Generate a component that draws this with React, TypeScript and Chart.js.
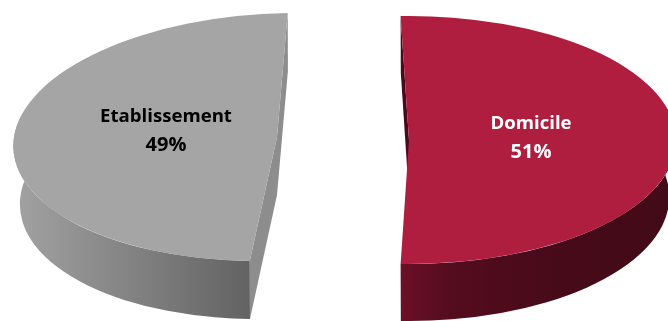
import React, { useEffect, useRef } from "react";
import { Chart, registerables } from "chart.js";

Chart.register(...registerables);

const categories = ["Domicile", "Etablissement"];
const shares = [51, 49];
const faceColors = ["#af1e3e", "#a5a5a5"];
const cutColors = ["#4a0a1a", "#8d8d8d"];
const labelColors = ["#ffffff", "#000000"];

// Where each exploded slice sits on the canvas and how it is foreshortened.
const sliceViews = [
  { cx: 409, cy: 140, rx: 267, ry: 124, shear: 0, depth: 57, floorScale: 0.975,
    cutAngles: "start", labelX: 531, labelY: 124,
    wallStops: [[401, "#6b1028"], [450, "#540c1e"], [560, "#470a19"], [668, "#430a18"]] },
  { cx: 277, cy: 137, rx: 263, ry: 124, shear: -0.153, depth: 58, floorScale: 0.975,
    cutAngles: "both", labelX: 166, labelY: 117,
    wallStops: [[15, "#a2a2a2"], [130, "#838383"], [250, "#626262"]] },
];

const WALL_FROM = -0.17;
const WALL_TO = Math.PI + 0.17;

type View = (typeof sliceViews)[number];

function applyView(ctx: CanvasRenderingContext2D, v: View, R: number, lower: boolean) {
  const scale = lower ? v.floorScale : 1;
  const sx = (v.rx / R) * scale;
  const sy = v.ry / R;
  ctx.setTransform(sx, 0, v.shear * sy, sy, v.cx, v.cy + (lower ? v.depth : 0));
}

const pie3d = {
  id: "pie3d",
  beforeDatasetsDraw(chart: Chart) {
    const ctx = chart.ctx;
    const arcs = chart.getDatasetMeta(0).data as any[];

    arcs.forEach((arc, i) => {
      const v = sliceViews[i];
      const R = arc.outerRadius;
      const a0 = arc.startAngle;
      const a1 = arc.endAngle;

      // Rounded outer wall, limited to the part that faces the viewer.
      const from = Math.max(a0, WALL_FROM);
      const to = Math.min(a1, WALL_TO);
      ctx.save();
      ctx.beginPath();
      applyView(ctx, v, R, false);
      ctx.arc(0, 0, R, from, to);
      applyView(ctx, v, R, true);
      ctx.arc(0, 0, R, to, from, true);
      ctx.closePath();
      ctx.setTransform(1, 0, 0, 1, 0, 0);
      const grad = ctx.createLinearGradient(0, 0, chart.width, 0);
      v.wallStops.forEach(([x, c]) => grad.addColorStop((x as number) / chart.width, c as string));
      ctx.fillStyle = grad;
      ctx.fill();
      ctx.restore();

      // Flat cut faces along the radii.
      ctx.save();
      ctx.fillStyle = cutColors[i];
      const cut = (angle: number) => {
        const px = R * Math.cos(angle);
        const py = R * Math.sin(angle);
        ctx.beginPath();
        applyView(ctx, v, R, false);
        ctx.moveTo(px, py);
        ctx.lineTo(0, 0);
        applyView(ctx, v, R, true);
        ctx.lineTo(0, 0);
        ctx.lineTo(px, py);
        ctx.closePath();
        ctx.setTransform(1, 0, 0, 1, 0, 0);
        ctx.fill();
      };
      cut(a0);
      if (v.cutAngles === "both") cut(a1);
      ctx.restore();

      // Top face, drawn by the arc element itself.
      ctx.save();
      applyView(ctx, v, R, false);
      ctx.translate(-arc.x, -arc.y);
      arc.draw(ctx);
      ctx.restore();
    });

    // Labels on the top faces.
    ctx.save();
    ctx.textAlign = "center";
    ctx.textBaseline = "middle";
    categories.forEach((name, i) => {
      const v = sliceViews[i];
      ctx.fillStyle = labelColors[i];
      ctx.font = 'bold 18.6px "Open Sans"';
      ctx.fillText(name, v.labelX, v.labelY);
      ctx.font = 'bold 20px "Open Sans"';
      ctx.fillText(`${shares[i]}%`, v.labelX, v.labelY + 28);
    });
    ctx.restore();
    return false;
  },
};

export default function App() {
  const ref = useRef<HTMLCanvasElement>(null);
  useEffect(() => {
    const chart = new Chart(ref.current!, {
      type: "pie",
      data: {
        labels: categories,
        datasets: [{ data: shares, backgroundColor: faceColors, borderWidth: 0 }],
      },
      options: {
        animation: false,
        responsive: false,
        rotation: -1.8,
        layout: { padding: 0 },
        plugins: { legend: { display: false }, tooltip: { enabled: false } },
      },
      plugins: [pie3d],
    });
    return () => chart.destroy();
  }, []);
  return (
    <div style={{ position: "absolute", left: 0, top: 0, width: 668, height: 321, background: "#fff", overflow: "hidden" }}>
      <canvas ref={ref} width={668} height={321} style={{ display: "block" }} />
    </div>
  );
}
